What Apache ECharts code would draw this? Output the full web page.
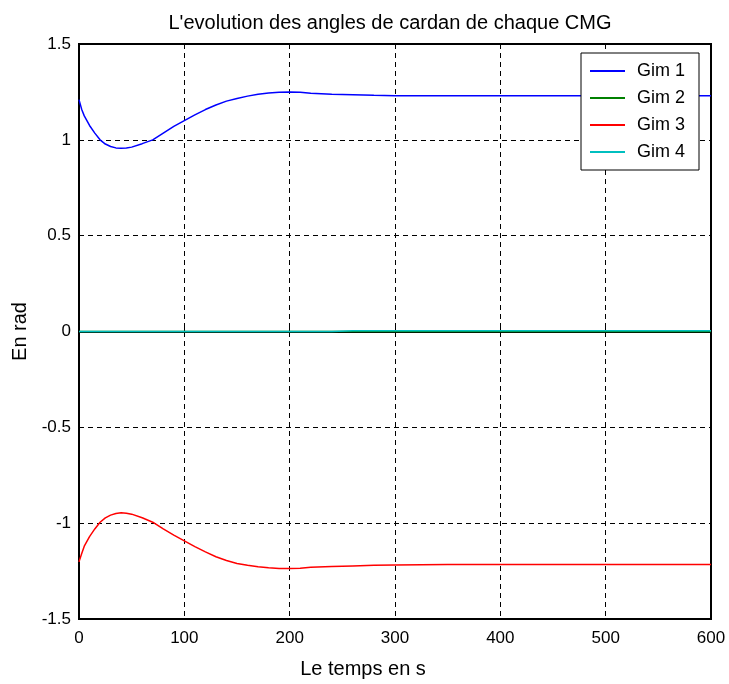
<!DOCTYPE html>
<html>
<head>
<meta charset="utf-8">
<script src="https://cdn.jsdelivr.net/npm/echarts@6/dist/echarts.min.js"></script>
<style>
html, body { margin: 0; padding: 0; background: #fff; }
#main { width: 729px; height: 684px; }
</style>
</head>
<body>
<div id="main"></div>
<script>
// temps (s) et angles de cardan (rad)
var temps = [0, 2.5, 5, 10, 15, 20, 25, 30, 35, 40, 45, 50, 60, 70, 80, 90, 100, 110, 120, 130, 140, 150, 160, 170, 180, 190, 200, 210, 220, 240, 260, 280, 300, 350, 400, 450, 500, 550, 600];
var gim1 = [1.21, 1.16, 1.125, 1.075, 1.035, 1.0, 0.978, 0.965, 0.958, 0.956, 0.957, 0.962, 0.98, 1.0, 1.035, 1.07, 1.10, 1.13, 1.158, 1.182, 1.202, 1.216, 1.228, 1.238, 1.244, 1.248, 1.25, 1.248, 1.243, 1.238, 1.235, 1.232, 1.23, 1.23, 1.23, 1.23, 1.23, 1.23, 1.23];
var gim2 = [0, 0, 0, 0, 0, 0, 0, 0, 0, 0, 0, 0, 0, 0, 0, 0, 0, 0, 0, 0, 0, 0, 0, 0, 0, 0, 0, 0, 0, 0, 0, 0, 0, 0, 0, 0, 0, 0, 0];
var gim3 = [-1.202, -1.16, -1.12, -1.07, -1.03, -0.995, -0.972, -0.958, -0.95, -0.946, -0.948, -0.953, -0.972, -0.995, -1.03, -1.062, -1.092, -1.122, -1.15, -1.175, -1.195, -1.21, -1.22, -1.228, -1.233, -1.236, -1.237, -1.235, -1.23, -1.226, -1.223, -1.22, -1.218, -1.216, -1.216, -1.216, -1.216, -1.216, -1.216];
var gim4 = [0, 0, 0, 0, 0, 0, 0, 0, 0, 0, 0, 0, 0, 0, 0, 0, 0, 0, 0, 0, 0, 0, 0, 0, 0, 0, 0, 0, 0, 0, 0.004, 0.004, 0.004, 0.004, 0.004, 0.004, 0.004, 0.004, 0.004];
var noms = ['Gim 1', 'Gim 2', 'Gim 3', 'Gim 4'];
var couleurs = ['#0000ff', '#008000', '#ff0000', '#00bfbf'];
var xTicks = [0, 100, 200, 300, 400, 500, 600];
var yTicks = [-1.5, -1, -0.5, 0, 0.5, 1, 1.5];

function paires(ys) {
    return temps.map(function (t, i) { return [t, ys[i]]; });
}

var police = 'Liberation Sans, Arial, sans-serif';
var myChart = echarts.init(document.getElementById('main'));
var option = {
    backgroundColor: '#fff',
    animation: false,
    title: {
        text: "L'evolution des angles de cardan de chaque CMG",
        left: 385,
        textAlign: 'center',
        top: 8,
        textStyle: { fontFamily: police, fontSize: 20, fontWeight: 'normal', color: '#000' }
    },
    grid: {
        left: 79, right: 18, top: 44, bottom: 64,
        show: true, borderColor: '#000', borderWidth: 2
    },
    legend: {
        data: noms,
        orient: 'vertical',
        left: 581, top: 53,
        backgroundColor: '#fff',
        borderColor: '#000',
        borderWidth: 1,
        padding: [9, 14, 9, 9],
        itemWidth: 35,
        itemHeight: 2,
        itemGap: 9,
        icon: 'rect',
        textStyle: { fontFamily: police, fontSize: 18, color: '#000', lineHeight: 18, padding: [0, 0, 0, 7] }
    },
    xAxis: {
        type: 'value',
        min: 0, max: 600, interval: 100,
        name: 'Le temps en s',
        nameLocation: 'middle',
        nameGap: 40,
        nameTextStyle: { fontFamily: police, fontSize: 20, color: '#000', padding: [0, 64, 0, 0] },
        axisLine: { lineStyle: { color: '#000', width: 2 } },
        axisTick: { inside: true, length: 5, lineStyle: { color: '#000' } },
        axisLabel: {
            fontFamily: police, fontSize: 17, color: '#000', margin: 11,
            formatter: function (v) { return xTicks.indexOf(v) >= 0 ? String(v) : ''; }
        },
        splitLine: { show: true, lineStyle: { color: '#000', type: [5, 4], width: 1 } }
    },
    yAxis: {
        type: 'value',
        min: -1.5, max: 1.5, interval: 0.5,
        name: 'En rad',
        nameLocation: 'middle',
        nameGap: 48,
        nameTextStyle: { fontFamily: police, fontSize: 20, color: '#000' },
        axisLine: { lineStyle: { color: '#000', width: 2 } },
        axisTick: { inside: true, length: 5, lineStyle: { color: '#000' } },
        axisLabel: {
            fontFamily: police, fontSize: 17, color: '#000', margin: 8,
            formatter: function (v) { return yTicks.indexOf(v) >= 0 ? String(v) : ''; }
        },
        splitLine: { show: true, lineStyle: { color: '#000', type: [5, 4], width: 1 } }
    },
    series: [gim1, gim2, gim3, gim4].map(function (d, i) {
        return {
            name: noms[i],
            type: 'line',
            data: paires(d),
            smooth: false,
            showSymbol: false,
            symbol: 'none',
            color: couleurs[i],
            lineStyle: { color: couleurs[i], width: 1.5 },
            z: 3 + i
        };
    })
};
myChart.setOption(option);
</script>
</body>
</html>
